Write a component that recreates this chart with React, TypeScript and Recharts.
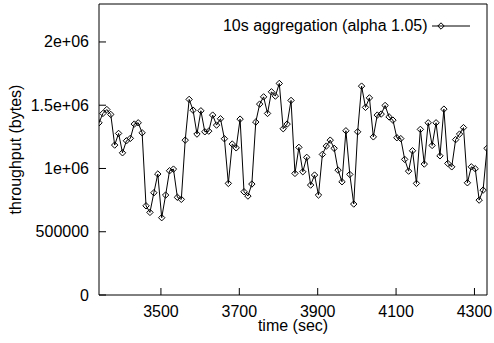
import React from 'react';
import { LineChart, Line, XAxis, YAxis, ReferenceArea, Legend } from 'recharts';

const times = [
  3342, 3352, 3362, 3372, 3382, 3392, 3402, 3412, 3422, 3432,
  3442, 3452, 3462, 3472, 3482, 3492, 3502, 3512, 3522, 3532,
  3542, 3552, 3562, 3572, 3582, 3592, 3602, 3612, 3622, 3632,
  3642, 3652, 3662, 3672, 3682, 3692, 3702, 3712, 3722, 3732,
  3742, 3752, 3762, 3772, 3782, 3792, 3802, 3812, 3822, 3832,
  3842, 3852, 3862, 3872, 3882, 3892, 3902, 3912, 3922, 3932,
  3942, 3952, 3962, 3972, 3982, 3992, 4002, 4012, 4022, 4032,
  4042, 4052, 4062, 4072, 4082, 4092, 4102, 4112, 4122, 4132,
  4142, 4152, 4162, 4172, 4182, 4192, 4202, 4212, 4222, 4232,
  4242, 4252, 4262, 4272, 4282, 4292, 4302, 4312, 4322, 4332,
];

const throughput = [
  1361000, 1435000, 1466000, 1427000, 1185000, 1277000, 1124000, 1219000, 1238000, 1351000,
  1361000, 1282000, 705000, 653000, 808000, 956000, 611000, 790000, 982000, 995000,
  772000, 756000, 1224000, 1546000, 1461000, 1272000, 1456000, 1290000, 1295000, 1422000,
  1343000, 1393000, 1235000, 882000, 1193000, 1163000, 1390000, 816000, 782000, 877000,
  1367000, 1509000, 1566000, 1435000, 1606000, 1572000, 1672000, 1314000, 1351000, 1538000,
  961000, 1167000, 974000, 1088000, 869000, 948000, 790000, 1111000, 1177000, 1224000,
  1159000, 987000, 895000, 1298000, 953000, 719000, 1290000, 1651000, 1483000, 1558000,
  1250000, 1422000, 1430000, 1498000, 1408000, 1382000, 1243000, 1236000, 1072000, 979000,
  1140000, 882000, 1309000, 1035000, 1361000, 1182000, 1361000, 1100000, 1469000, 1040000,
  1013000, 1228000, 1272000, 1323000, 887000, 1013000, 998000, 750000, 829000, 1159000,
];

const xTicks = [3500, 3700, 3900, 4100, 4300];
const yTicks = [0, 500000, 1000000, 1500000, 2000000];
const yTickLabels = ['0', '500000', '1e+06', '1.5e+06', '2e+06'];
const yMax = 2300000;
const seriesName = '10s aggregation (alpha 1.05)';
const xTitle = 'time (sec)';
const yTitle = 'throughput (bytes)';

const data = times.map((t, i) => ({ t, v: throughput[i] }));
const xDomain = [times[0], times[times.length - 1]];

const FONT = '"Liberation Sans", Arial, Helvetica, sans-serif';
const FS = 16;
const TICK = 7;

const BottomTick = (p: any) => (
  <g>
    <line x1={p.x} y1={p.y} x2={p.x} y2={p.y - TICK} stroke="#000" strokeWidth={1} />
    <text x={p.x} y={p.y + 22} textAnchor="middle" fontSize={FS} fontFamily={FONT} fill="#000">
      {p.payload.value}
    </text>
  </g>
);
const TopTick = (p: any) => (
  <line x1={p.x} y1={p.y} x2={p.x} y2={p.y + TICK} stroke="#000" strokeWidth={1} />
);
const LeftTick = (p: any) => {
  const idx = yTicks.indexOf(p.payload.value);
  return (
    <g>
      <line x1={p.x} y1={p.y} x2={p.x + TICK} y2={p.y} stroke="#000" strokeWidth={1} />
      <text x={p.x - 10} y={p.y + 5.5} textAnchor="end" fontSize={FS} fontFamily={FONT} fill="#000">
        {idx >= 0 ? yTickLabels[idx] : String(p.payload.value)}
      </text>
    </g>
  );
};
const RightTick = (p: any) => (
  <line x1={p.x} y1={p.y} x2={p.x - TICK} y2={p.y} stroke="#000" strokeWidth={1} />
);

const XTitle = (p: any) => {
  const vb = p.viewBox || { x: 99, y: 295, width: 388, height: 48 };
  return (
    <text x={vb.x + vb.width / 2} y={vb.y + 35.5} textAnchor="middle" fontSize={FS} fontFamily={FONT} fill="#000">
      {xTitle}
    </text>
  );
};
const YTitle = (p: any) => {
  const vb = p.viewBox || { x: 0, y: 4, width: 99, height: 291 };
  const cx = 21;
  const cy = vb.y + vb.height / 2;
  return (
    <text x={cx} y={cy} transform={`rotate(-90, ${cx}, ${cy})`} textAnchor="middle" fontSize={FS} fontFamily={FONT} fill="#000">
      {yTitle}
    </text>
  );
};

const diamond = (cx: number, cy: number, r: number) =>
  `M${cx},${cy - r}L${cx + r},${cy}L${cx},${cy + r}L${cx - r},${cy}Z`;

const Diamond = (p: any) => {
  if (p.cx == null || p.cy == null) return <g />;
  return <path d={diamond(p.cx, p.cy, 3.2)} fill="none" stroke="#000" strokeWidth={1} />;
};

const LegendContent = () => (
  <svg width={494} height={40} style={{ display: 'block' }}>
    <text x={427.5} y={30.5} textAnchor="end" fontSize={FS} fontFamily={FONT} fill="#000">
      {seriesName}
    </text>
    <line x1={432} y1={26} x2={470} y2={26} stroke="#000" strokeWidth={1} />
    <path d={diamond(441, 26, 3.2)} fill="none" stroke="#000" strokeWidth={1} />
  </svg>
);

export default function App() {
  return (
    <div style={{ position: 'absolute', left: 0, top: 0, width: 494, height: 343, background: '#fff' }}>
      <LineChart width={494} height={343} data={data} margin={{ top: 4, right: 7, bottom: 0, left: 0 }}>
        <XAxis
          xAxisId="b"
          dataKey="t"
          type="number"
          domain={xDomain}
          ticks={xTicks}
          allowDataOverflow
          height={48}
          tickSize={0}
          tickMargin={0}
          tickLine={false}
          axisLine={false}
          tick={<BottomTick />}
          label={<XTitle />}
        />
        <XAxis
          xAxisId="top"
          orientation="top"
          dataKey="t"
          type="number"
          domain={xDomain}
          ticks={xTicks}
          allowDataOverflow
          height={0}
          tickSize={0}
          tickMargin={0}
          tickLine={false}
          axisLine={false}
          tick={<TopTick />}
        />
        <YAxis
          yAxisId="l"
          type="number"
          domain={[0, yMax]}
          ticks={yTicks}
          allowDataOverflow
          width={99}
          tickSize={0}
          tickMargin={0}
          tickLine={false}
          axisLine={false}
          tick={<LeftTick />}
          label={<YTitle />}
        />
        <YAxis
          yAxisId="r"
          orientation="right"
          type="number"
          domain={[0, yMax]}
          ticks={yTicks}
          allowDataOverflow
          width={0}
          tickSize={0}
          tickMargin={0}
          tickLine={false}
          axisLine={false}
          tick={<RightTick />}
        />
        <ReferenceArea
          xAxisId="b"
          yAxisId="l"
          x1={xDomain[0]}
          x2={xDomain[1]}
          y1={0}
          y2={yMax}
          fill="none"
          fillOpacity={0}
          stroke="#000"
          strokeWidth={1}
          strokeOpacity={1}
        />
        <Line
          xAxisId="b"
          yAxisId="l"
          dataKey="v"
          name={seriesName}
          stroke="#000"
          strokeWidth={1}
          dot={<Diamond />}
          activeDot={false}
          isAnimationActive={false}
        />
        <Legend
          layout="horizontal"
          verticalAlign="middle"
          align="center"
          content={<LegendContent />}
          wrapperStyle={{ position: 'absolute', left: 0, top: 0, width: 494, height: 40 }}
        />
      </LineChart>
    </div>
  );
}
